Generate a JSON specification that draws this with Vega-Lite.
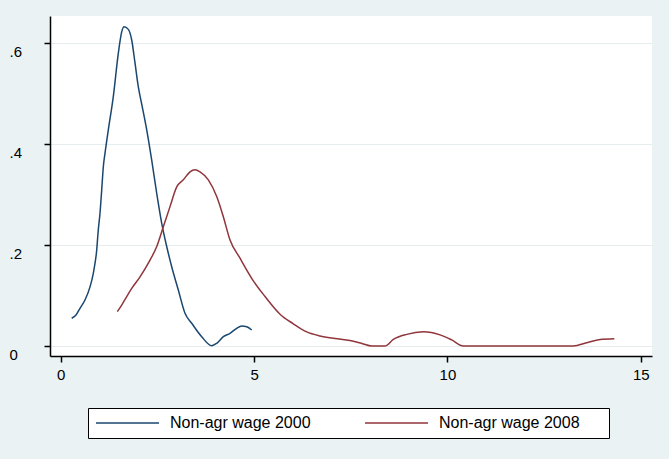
{
  "$schema": "https://vega.github.io/schema/vega-lite/v6.json",
  "width": 602,
  "height": 340,
  "autosize": {"type": "none"},
  "padding": {"left": 50, "top": 16, "right": 17, "bottom": 103},
  "background": "#EAF2F3",
  "config": {"view": {"stroke": null, "fill": "white"}, "font": "Liberation Sans"},
  "data": {
    "values": [
      {"series": "Non-agr wage 2000", "x": 0.284, "y": 0.0549},
      {"series": "Non-agr wage 2000", "x": 0.396, "y": 0.0614},
      {"series": "Non-agr wage 2000", "x": 0.499, "y": 0.0747},
      {"series": "Non-agr wage 2000", "x": 0.628, "y": 0.0911},
      {"series": "Non-agr wage 2000", "x": 0.758, "y": 0.117},
      {"series": "Non-agr wage 2000", "x": 0.843, "y": 0.144},
      {"series": "Non-agr wage 2000", "x": 0.887, "y": 0.164},
      {"series": "Non-agr wage 2000", "x": 0.931, "y": 0.19},
      {"series": "Non-agr wage 2000", "x": 0.957, "y": 0.216},
      {"series": "Non-agr wage 2000", "x": 0.972, "y": 0.23},
      {"series": "Non-agr wage 2000", "x": 1.016, "y": 0.263},
      {"series": "Non-agr wage 2000", "x": 1.06, "y": 0.309},
      {"series": "Non-agr wage 2000", "x": 1.102, "y": 0.355},
      {"series": "Non-agr wage 2000", "x": 1.146, "y": 0.382},
      {"series": "Non-agr wage 2000", "x": 1.231, "y": 0.428},
      {"series": "Non-agr wage 2000", "x": 1.36, "y": 0.494},
      {"series": "Non-agr wage 2000", "x": 1.49, "y": 0.58},
      {"series": "Non-agr wage 2000", "x": 1.577, "y": 0.622},
      {"series": "Non-agr wage 2000", "x": 1.637, "y": 0.632},
      {"series": "Non-agr wage 2000", "x": 1.748, "y": 0.627},
      {"series": "Non-agr wage 2000", "x": 1.836, "y": 0.606},
      {"series": "Non-agr wage 2000", "x": 1.922, "y": 0.56},
      {"series": "Non-agr wage 2000", "x": 2.007, "y": 0.513},
      {"series": "Non-agr wage 2000", "x": 2.1, "y": 0.477},
      {"series": "Non-agr wage 2000", "x": 2.224, "y": 0.428},
      {"series": "Non-agr wage 2000", "x": 2.353, "y": 0.368},
      {"series": "Non-agr wage 2000", "x": 2.483, "y": 0.302},
      {"series": "Non-agr wage 2000", "x": 2.612, "y": 0.243},
      {"series": "Non-agr wage 2000", "x": 2.741, "y": 0.197},
      {"series": "Non-agr wage 2000", "x": 2.87, "y": 0.157},
      {"series": "Non-agr wage 2000", "x": 3.041, "y": 0.111},
      {"series": "Non-agr wage 2000", "x": 3.214, "y": 0.0648},
      {"series": "Non-agr wage 2000", "x": 3.388, "y": 0.045},
      {"series": "Non-agr wage 2000", "x": 3.646, "y": 0.0184},
      {"series": "Non-agr wage 2000", "x": 3.905, "y": 0.0006},
      {"series": "Non-agr wage 2000", "x": 4.034, "y": 0.0053},
      {"series": "Non-agr wage 2000", "x": 4.205, "y": 0.0184},
      {"series": "Non-agr wage 2000", "x": 4.378, "y": 0.0251},
      {"series": "Non-agr wage 2000", "x": 4.551, "y": 0.035},
      {"series": "Non-agr wage 2000", "x": 4.681, "y": 0.0396},
      {"series": "Non-agr wage 2000", "x": 4.81, "y": 0.0382},
      {"series": "Non-agr wage 2000", "x": 4.939, "y": 0.0317},
      {"series": "Non-agr wage 2008", "x": 1.464, "y": 0.068},
      {"series": "Non-agr wage 2008", "x": 1.577, "y": 0.081},
      {"series": "Non-agr wage 2008", "x": 1.707, "y": 0.098},
      {"series": "Non-agr wage 2008", "x": 1.836, "y": 0.114},
      {"series": "Non-agr wage 2008", "x": 2.051, "y": 0.137},
      {"series": "Non-agr wage 2008", "x": 2.309, "y": 0.17},
      {"series": "Non-agr wage 2008", "x": 2.483, "y": 0.197},
      {"series": "Non-agr wage 2008", "x": 2.653, "y": 0.236},
      {"series": "Non-agr wage 2008", "x": 2.826, "y": 0.276},
      {"series": "Non-agr wage 2008", "x": 3.0, "y": 0.315},
      {"series": "Non-agr wage 2008", "x": 3.17, "y": 0.329},
      {"series": "Non-agr wage 2008", "x": 3.344, "y": 0.345},
      {"series": "Non-agr wage 2008", "x": 3.473, "y": 0.349},
      {"series": "Non-agr wage 2008", "x": 3.602, "y": 0.345},
      {"series": "Non-agr wage 2008", "x": 3.817, "y": 0.329},
      {"series": "Non-agr wage 2008", "x": 4.034, "y": 0.296},
      {"series": "Non-agr wage 2008", "x": 4.205, "y": 0.256},
      {"series": "Non-agr wage 2008", "x": 4.378, "y": 0.21},
      {"series": "Non-agr wage 2008", "x": 4.636, "y": 0.174},
      {"series": "Non-agr wage 2008", "x": 4.981, "y": 0.129},
      {"series": "Non-agr wage 2008", "x": 5.283, "y": 0.098},
      {"series": "Non-agr wage 2008", "x": 5.671, "y": 0.063},
      {"series": "Non-agr wage 2008", "x": 6.015, "y": 0.044},
      {"series": "Non-agr wage 2008", "x": 6.362, "y": 0.028},
      {"series": "Non-agr wage 2008", "x": 6.705, "y": 0.02},
      {"series": "Non-agr wage 2008", "x": 7.093, "y": 0.015},
      {"series": "Non-agr wage 2008", "x": 7.481, "y": 0.011},
      {"series": "Non-agr wage 2008", "x": 7.79, "y": 0.005},
      {"series": "Non-agr wage 2008", "x": 8.042, "y": 0.0},
      {"series": "Non-agr wage 2008", "x": 8.386, "y": 0.0},
      {"series": "Non-agr wage 2008", "x": 8.601, "y": 0.013},
      {"series": "Non-agr wage 2008", "x": 8.948, "y": 0.023},
      {"series": "Non-agr wage 2008", "x": 9.377, "y": 0.028},
      {"series": "Non-agr wage 2008", "x": 9.809, "y": 0.022},
      {"series": "Non-agr wage 2008", "x": 10.111, "y": 0.012},
      {"series": "Non-agr wage 2008", "x": 10.411, "y": 0.0},
      {"series": "Non-agr wage 2008", "x": 13.256, "y": 0.0},
      {"series": "Non-agr wage 2008", "x": 13.602, "y": 0.0065},
      {"series": "Non-agr wage 2008", "x": 13.946, "y": 0.013},
      {"series": "Non-agr wage 2008", "x": 14.316, "y": 0.0145}
    ]
  },
  "mark": {"type": "line", "strokeWidth": 1.5, "interpolate": "monotone"},
  "encoding": {
    "x": {
      "field": "x",
      "type": "quantitative",
      "scale": {"domain": [-0.277, 15.29], "nice": false, "zero": false},
      "axis": {
        "values": [0, 5, 10, 15],
        "title": null,
        "grid": false,
        "domainColor": "black",
        "domainWidth": 1.5,
        "tickColor": "black",
        "tickWidth": 1.5,
        "tickSize": 6,
        "labelFontSize": 15,
        "labelColor": "black",
        "labelFont": "Liberation Sans",
        "labelPadding": 5,
        "labelFlush": false
      }
    },
    "y": {
      "field": "y",
      "type": "quantitative",
      "scale": {"domain": [-0.0198, 0.6535], "nice": false, "zero": false},
      "axis": {
        "values": [0, 0.2, 0.4, 0.6],
        "title": null,
        "grid": true,
        "gridColor": "#E6EDEF",
        "gridWidth": 1,
        "domainColor": "black",
        "domainWidth": 1.5,
        "tickColor": "black",
        "tickWidth": 1.5,
        "tickSize": 6,
        "labelFontSize": 15,
        "labelColor": "black",
        "labelFont": "Liberation Sans",
        "labelAlign": "left",
        "labelPadding": 35,
        "labelOffset": 8,
        "labelFlush": false,
        "labelExpr": "datum.value === 0 ? '0' : '.' + round(datum.value * 10)"
      }
    },
    "color": {
      "field": "series",
      "type": "nominal",
      "scale": {"domain": ["Non-agr wage 2000", "Non-agr wage 2008"], "range": ["#1a476f", "#90353b"]},
      "legend": {
        "orient": "none",
        "legendX": 38,
        "legendY": 392,
        "direction": "horizontal",
        "title": " ",
        "titleOrient": "right",
        "titleFontSize": 16,
        "titlePadding": 22,
        "symbolType": "M-4.5,0H4.5",
        "symbolSize": 196,
        "symbolOffset": 24.5,
        "symbolStrokeWidth": 1.5,
        "labelFontSize": 16,
        "labelColor": "black",
        "labelFont": "Liberation Sans",
        "labelOffset": 34.5,
        "labelLimit": 300,
        "columnPadding": 51,
        "padding": 7,
        "fillColor": "white",
        "strokeColor": "black"
      }
    }
  }
}
